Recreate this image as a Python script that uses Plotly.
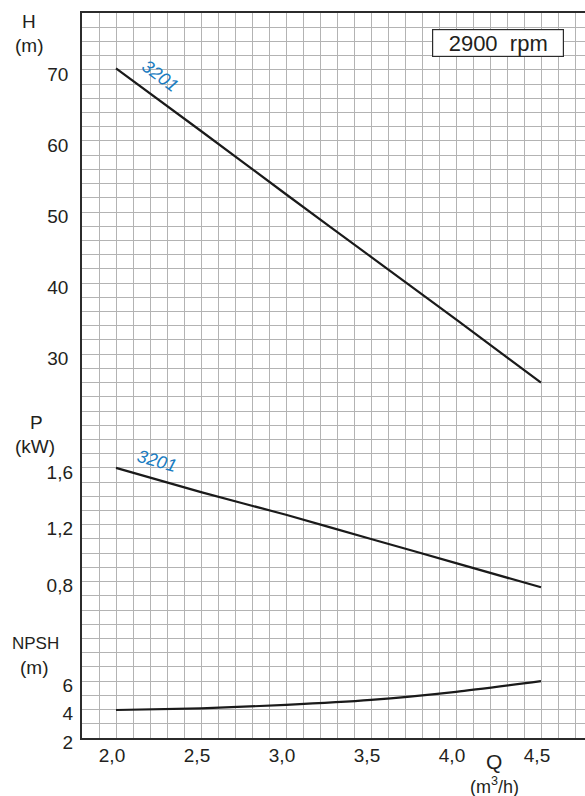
import plotly.graph_objects as go

# Pump performance data, 2900 rpm, model 3201
q = [2.0, 2.5, 3.0, 3.5, 4.0, 4.5]                 # flow Q (m3/h)
head = [70.2, 61.4, 52.5, 43.7, 34.9, 26.0]        # H (m)
power = [1.60, 1.43, 1.27, 1.10, 0.93, 0.76]       # P (kW)
npsh = [3.97, 4.09, 4.33, 4.68, 5.25, 6.0]         # NPSH (m)

q_ticks = [2.0, 2.5, 3.0, 3.5, 4.0, 4.5]
h_ticks = [30, 40, 50, 60, 70]
p_ticks = [0.8, 1.2, 1.6]
npsh_ticks = [2, 4, 6]

model = "3201"
speed_label = "2900\u00a0\u00a0rpm"

FONT = "Liberation Sans, Arial, Helvetica, sans-serif"
TXT = "#231f20"
GRID = "#b3b3b3"
BLUE = "#1a7cc1"

# layout geometry (pixels)
W_PX, H_PX = 585, 796
ML, MR, MT, MB = 82, 0, 13, 58
PW = W_PX - ML - MR
PH = H_PX - MT - MB


def px(x):
    return (x - ML) / PW


def py(y):
    return (MT + PH - y) / PH


fig = go.Figure()

line_style = dict(color="#1a1a1a", width=2.2, shape="spline", smoothing=0.6)
fig.add_trace(go.Scatter(x=q, y=head, mode="lines", line=line_style,
                         yaxis="y", hoverinfo="skip", showlegend=False))
fig.add_trace(go.Scatter(x=q, y=power, mode="lines", line=line_style,
                         yaxis="y2", hoverinfo="skip", showlegend=False))
fig.add_trace(go.Scatter(x=q, y=npsh, mode="lines", line=line_style,
                         yaxis="y3", hoverinfo="skip", showlegend=False))

tickfont = dict(family=FONT, size=19, color=TXT)

# shared grid of 51 rows; H = 2 m/row, P = 0.1 kW/row, NPSH = 1 m/row
ROWS = 51
h_range = [70 - 2 * 47, 70 - 2 * 47 + 2 * ROWS]
p_range = [0.8 - 0.1 * 11, 0.8 - 0.1 * 11 + 0.1 * ROWS]
n_range = [2, 2 + ROWS]

over = dict(overlaying="y", anchor="x", side="left", showgrid=False,
            zeroline=False, showline=False, ticks="", tickfont=tickfont,
            tickmode="array", ticklabelstandoff=8, ticklabelshift=4,
            fixedrange=True)

fig.update_layout(
    width=W_PX, height=H_PX,
    margin=dict(l=ML, r=MR, t=MT, b=MB, pad=0),
    paper_bgcolor="white", plot_bgcolor="white",
    separators=", ",
    font=dict(family=FONT, color=TXT),
    xaxis=dict(
        range=[1.8, 1.8 + PW / 170.0],
        tickmode="array", tickvals=q_ticks, tickformat=".1f",
        tickfont=tickfont, ticks="", ticklabelstandoff=-1, ticklabelshift=-4,
        showgrid=True, gridcolor=GRID, gridwidth=1,
        minor=dict(tick0=1.8, dtick=0.1, showgrid=True, gridcolor=GRID,
                   gridwidth=1, ticks=""),
        showline=True, linecolor="#2b2b2b", linewidth=1.6, mirror=True,
        zeroline=False, fixedrange=True,
    ),
    yaxis=dict(
        range=h_range, tickmode="array", tickvals=h_ticks,
        tickfont=tickfont, ticks="", ticklabelstandoff=8, ticklabelshift=4,
        showgrid=True, gridcolor=GRID, gridwidth=1,
        minor=dict(tick0=h_range[0], dtick=2, showgrid=True, gridcolor=GRID,
                   gridwidth=1, ticks=""),
        showline=True, linecolor="#2b2b2b", linewidth=1.8,
        zeroline=False, fixedrange=True,
    ),
    yaxis2=dict(range=p_range, tickvals=p_ticks, tickformat=".1f", **over),
    yaxis3=dict(range=n_range, tickvals=npsh_ticks, **over),
)

anns = []


def paper_text(text, x, y, size=18, family=FONT, **kw):
    anns.append(dict(text=text, xref="paper", yref="paper", x=px(x), y=py(y),
                     xanchor="center", yanchor="middle", showarrow=False,
                     font=dict(family=family, size=size, color=TXT), **kw))


paper_text("H", 29, 22, size=19)
paper_text("(m)", 29, 45.5, size=19)
paper_text("P", 36, 422, size=19)
paper_text("(kW)", 35, 446.5, size=19)
paper_text("NPSH", 35, 643, size=17)
paper_text("(m)", 34, 667, size=19)
paper_text("Q", 494, 761, size=21)
paper_text("(m<sup>3</sup>/h)", 494, 785, size=18)

# speed box
anns.append(dict(text=speed_label, xref="paper", yref="paper",
                 x=px(498), y=py(43), xanchor="center", yanchor="middle",
                 showarrow=False, width=130, height=26, borderpad=0,
                 bordercolor="#2b2b2b", borderwidth=1.2, bgcolor="white",
                 font=dict(family=FONT, size=22, color=TXT)))

# model labels along curves
anns.append(dict(text="<i>" + model + "</i>", xref="x", yref="y",
                 x=2.26, y=69.1, textangle=37, showarrow=False,
                 font=dict(family=FONT, size=18, color=BLUE)))
anns.append(dict(text="<i>" + model + "</i>", xref="x", yref="y2",
                 x=2.24, y=1.65, textangle=16, showarrow=False,
                 font=dict(family=FONT, size=18, color=BLUE)))

fig.update_layout(annotations=anns)

fig.write_html("out.html")
